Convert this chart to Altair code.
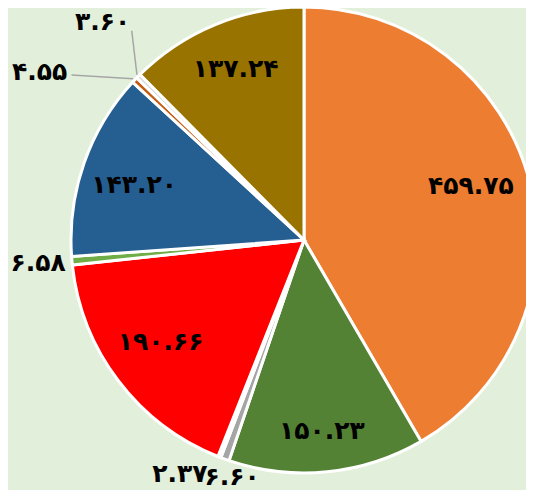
import altair as alt
import pandas as pd

labels = ["۴۵۹.۷۵", "۱۵۰.۲۳", "۶.۶۰", "۲.۳۷", "۱۹۰.۶۶", "۶.۵۸", "۱۴۳.۲۰", "۴.۵۵", "۳.۶۰", "۱۳۷.۲۴"]
values = [459.75, 150.23, 6.60, 2.37, 190.66, 6.58, 143.20, 4.55, 3.60, 137.24]
colors = ["#ED7D31", "#548235", "#A5A5A5", "#E7E6E6", "#FF0000", "#70AD47", "#255E91", "#C55A11", "#D9D9D9", "#997300"]

df = pd.DataFrame({"label": labels, "value": values, "idx": list(range(len(values)))})

CX, CY, R = 296, 232, 233

base = alt.Chart(df)

arc = base.mark_arc(outerRadius=R, stroke="white", strokeWidth=3).encode(
    theta=alt.Theta("value:Q", stack=True),
    color=alt.Color("label:N", scale=alt.Scale(domain=labels, range=colors), legend=None),
    order=alt.Order("idx:Q"),
    x=alt.value(CX),
    y=alt.value(CY),
)

pos = base.transform_joinaggregate(total="sum(value)").transform_window(
    cum="sum(value)", sort=[alt.SortField("idx")], frame=[None, 0]
).transform_calculate(
    mid="(datum.cum - datum.value/2)/datum.total*2*PI",
    r="datum.value > 50 ? 180 : 262",
    nx="datum.idx==5 ? -5 : datum.idx==2 ? 17 : datum.idx==3 ? -29 : datum.idx==7 ? -74 : datum.idx==8 ? -15 : datum.idx==0 ? -7 : 0",
    ny=("datum.idx==3 ? -10 : datum.idx==2 ? -9 : datum.idx==7 ? 12 : datum.idx==8 ? -34 : "
        "datum.idx==1 ? 12 : datum.idx==0 ? -7 : datum.idx==9 ? -5 : datum.idx==6 ? 4 : datum.idx==4 ? -7 : 0"),
).transform_calculate(
    lx=f"{CX} + datum.r*sin(datum.mid) + datum.nx",
    ly=f"{CY} - datum.r*cos(datum.mid) + datum.ny",
    ex=f"{CX} + {R + 2}*sin(datum.mid)",
    ey=f"{CY} - {R + 2}*cos(datum.mid)",
)

text = pos.mark_text(font="DejaVu Sans", fontWeight="bold", fontSize=25, color="black").encode(
    x=alt.X("lx:Q", scale=None),
    y=alt.Y("ly:Q", scale=None),
    text="label:N",
)

leaders = pos.transform_filter("datum.idx==7 || datum.idx==8").transform_calculate(
    tx="datum.lx + (datum.idx==7 ? 32 : 29)",
    ty="datum.ly + (datum.idx==7 ? 3 : 9)",
).mark_rule(color="#A6A6A6", strokeWidth=1.5).encode(
    x=alt.X("tx:Q", scale=None),
    y=alt.Y("ty:Q", scale=None),
    x2="ex:Q",
    y2="ey:Q",
)

chart = alt.layer(arc, leaders, text).properties(
    width=518, height=482, padding=0, autosize=alt.AutoSizeParams(type="none")
).configure(background="#E2EFDA").configure_view(stroke=None)

chart.save("out.html", embed_options={"renderer": "svg", "actions": False})
